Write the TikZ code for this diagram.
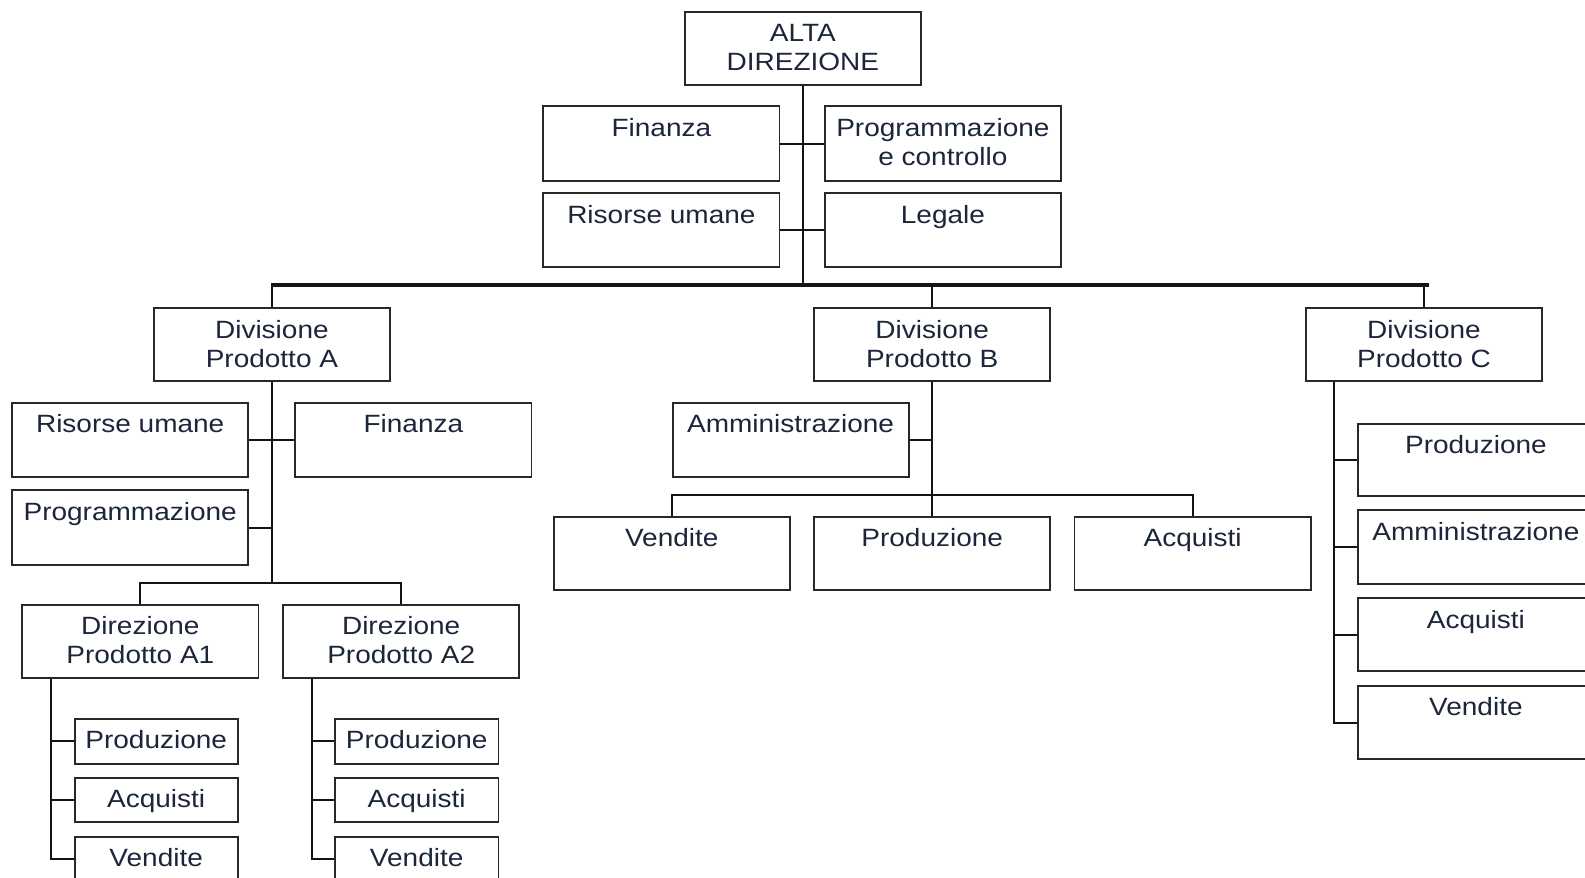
\documentclass[tikz,border=0pt]{standalone}
\usepackage{fontspec}
\setmainfont{Liberation Sans}[FakeStretch=1.12]

\definecolor{ink}{RGB}{28,38,58}
\definecolor{boxline}{RGB}{40,40,40}
\definecolor{linecol}{RGB}{20,20,20}

\tikzset{
  unit/.style={draw=boxline, line width=1.8pt, inner sep=0pt, anchor=north west,
               text=ink, font=\fontsize{25}{29}\selectfont},
  link/.style={draw=linecol, line width=2pt},
  trunkline/.style={draw=linecol, line width=4pt},
}

% \unitbox{name}{left}{top}{width}{height}{text}
\newcommand\unitbox[6]{%
  \node[unit] (#1) at (#2,#3)
    {\parbox[c][#5pt][t]{#4pt}{\centering\rule{0pt}{30pt}#6\par}};}

\begin{document}
\begin{tikzpicture}[x=1pt,y=-1pt]
\useasboundingbox (0,0) rectangle (1585,878);
\clip (0,0) rectangle (1585,878);

% top management and staff
\unitbox{alta}{684}{11}{236}{73}{ALTA\\DIREZIONE}
\unitbox{fin}{542.4}{105.3}{236.2}{75}{Finanza}
\unitbox{prog}{823.7}{105.3}{236.6}{75}{Programmazione\\e controllo}
\unitbox{risu}{542.4}{192.3}{236.2}{73.4}{Risorse umane}
\unitbox{leg}{823.7}{192.3}{236.6}{73.4}{Legale}

% divisions
\unitbox{diva}{152.9}{307.3}{236.2}{73}{Divisione\\Prodotto A}
\unitbox{divb}{813.3}{307.3}{236}{73}{Divisione\\Prodotto B}
\unitbox{divc}{1304.9}{307.3}{236.4}{73}{Divisione\\Prodotto C}

% division A
\unitbox{risa}{11.4}{401.7}{235.8}{74.3}{Risorse umane}
\unitbox{fina}{294.4}{401.7}{236.2}{74.3}{Finanza}
\unitbox{proga}{11.4}{489.3}{235.8}{75}{Programmazione}
\unitbox{a1}{21.3}{603.7}{236.3}{73.3}{Direzione\\Prodotto A1}
\unitbox{a2}{282.4}{603.7}{235.8}{73.3}{Direzione\\Prodotto A2}
\unitbox{a1p}{73.7}{718}{163.2}{44.7}{Produzione}
\unitbox{a1a}{73.7}{776.7}{163.2}{44}{Acquisti}
\unitbox{a1v}{73.7}{835.7}{163.2}{44.7}{Vendite}
\unitbox{a2p}{334}{718}{163.6}{44.7}{Produzione}
\unitbox{a2a}{334}{776.7}{163.6}{44}{Acquisti}
\unitbox{a2v}{334}{835.7}{163.6}{44.7}{Vendite}

% division B
\unitbox{ammb}{671.7}{401.7}{236}{74.3}{Amministrazione}
\unitbox{venb}{552.7}{516}{236.3}{73}{Vendite}
\unitbox{prob}{813.3}{516}{236}{73}{Produzione}
\unitbox{acqb}{1073.5}{516}{236.5}{73}{Acquisti}

% division C
\unitbox{cpro}{1357}{422.7}{236}{72.3}{Produzione}
\unitbox{camm}{1357}{509.3}{236}{73.4}{Amministrazione}
\unitbox{cacq}{1357}{597.3}{236}{72.7}{Acquisti}
\unitbox{cven}{1357}{685}{236}{73.3}{Vendite}

% bus levels
\coordinate (trunk) at (0,285);
\coordinate (busa) at (0,583);
\coordinate (busb) at (0,495.3);

% main trunk
\draw[link] (alta.south) -- (alta.south |- trunk);
\draw[link] (fin.east) -- (prog.west);
\draw[link] (risu.east) -- (leg.west);
\draw[trunkline] ([xshift=-1pt]diva.north |- trunk) -- ([xshift=5pt]divc.north |- trunk);
\draw[link] (diva.north) -- (diva.north |- trunk);
\draw[link] (divb.north) -- (divb.north |- trunk);
\draw[link] (divc.north) -- (divc.north |- trunk);

% division A links
\draw[link] (diva.south) -- (diva.south |- busa);
\draw[link] (risa.east) -- (fina.west);
\draw[link] (proga.east) -- (proga.east -| diva.south);
\draw[link] (a1.north) -- (a1.north |- busa) -- (a2.north |- busa) -- (a2.north);
\coordinate (a1s) at ([xshift=29.7pt]a1.south west);
\draw[link] (a1s) -- (a1s |- a1v.west) -- (a1v.west);
\draw[link] (a1p.west) -- (a1p.west -| a1s);
\draw[link] (a1a.west) -- (a1a.west -| a1s);
\coordinate (a2s) at ([xshift=29.2pt]a2.south west);
\draw[link] (a2s) -- (a2s |- a2v.west) -- (a2v.west);
\draw[link] (a2p.west) -- (a2p.west -| a2s);
\draw[link] (a2a.west) -- (a2a.west -| a2s);

% division B links
\draw[link] (divb.south) -- (prob.north);
\draw[link] (ammb.east) -- (ammb.east -| divb.south);
\draw[link] (venb.north) -- (venb.north |- busb) -- (acqb.north |- busb) -- (acqb.north);

% division C links
\coordinate (cs) at ([xshift=29.3pt]divc.south west);
\draw[link] (cs) -- (cs |- cven.west) -- (cven.west);
\draw[link] (cpro.west) -- (cpro.west -| cs);
\draw[link] (camm.west) -- (camm.west -| cs);
\draw[link] (cacq.west) -- (cacq.west -| cs);
\end{tikzpicture}
\end{document}
